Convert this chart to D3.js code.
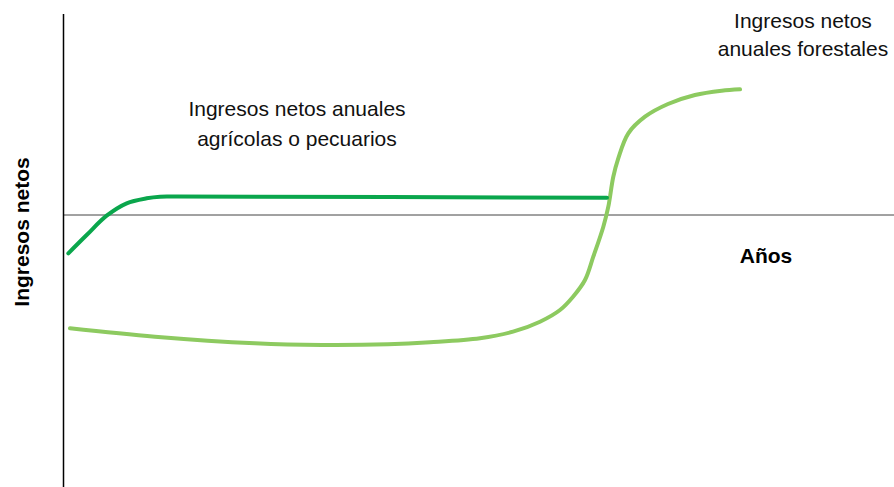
<!DOCTYPE html>
<html><head><meta charset="utf-8">
<script src="https://cdn.jsdelivr.net/npm/d3@7"></script>
<style>html,body{margin:0;padding:0;background:#fff}svg{display:block}</style>
</head><body>
<svg id="c" width="894" height="487"></svg>
<script>
// Years (abstract units 0..100) and net income (abstract units, 0 = break-even)
const agriYears  = [0.52, 2.73, 5.14, 7.55, 9.96, 11.57, 13.73, 65.42];
const agriIncome = [-19.15, -10, -0.35, 5.85, 8.35, 9.15, 9.2, 8.65];

const forestYears  = [0.72, 10.96, 23.01, 31.05, 39.04, 44.1, 50.12, 54.1, 57.35, 59.76, 61.33, 62.77, 63.77, 64.98, 65.58, 66.18, 66.78, 67.99, 70, 72.77, 76.02, 79.24, 81.45];
const forestIncome = [-56.65, -60.85, -64.15, -65, -64.65, -63.65, -61.65, -58.35, -53.35, -47.5, -40.85, -32.5, -20.85, -5.85, 4.15, 19.15, 28.35, 40.85, 49.15, 55.5, 60, 62.15, 62.85];

const labels = {
  agri: ["Ingresos netos anuales", "agrícolas o pecuarios"],
  forest: ["Ingresos netos", "anuales forestales"],
  xAxis: "Años",
  yAxis: "Ingresos netos"
};

const svg = d3.select("#c");
const x = d3.scaleLinear().domain([0, 100]).range([64, 894]);
const y = d3.scaleLinear().domain([-100, 100]).range([415, 15]);

// axes
svg.append("line").attr("x1", x(0)).attr("x2", x(100)).attr("y1", y(0)).attr("y2", y(0))
  .attr("stroke", "#444").attr("stroke-width", 1);
svg.append("line").attr("x1", x(0) - 0.5).attr("x2", x(0) - 0.5).attr("y1", 14).attr("y2", 487)
  .attr("stroke", "#000").attr("stroke-width", 1.5);

const line = d3.line().x(d => x(d[0])).y(d => y(d[1])).curve(d3.curveCatmullRom.alpha(0.5));

svg.append("path").datum(d3.zip(forestYears, forestIncome)).attr("d", line)
  .attr("fill", "none").attr("stroke", "#8dca60").attr("stroke-width", 4).attr("stroke-linecap", "round");
svg.append("path").datum(d3.zip(agriYears, agriIncome)).attr("d", line)
  .attr("fill", "none").attr("stroke", "#0aa64c").attr("stroke-width", 4).attr("stroke-linecap", "round");

const font = "Liberation Sans, Arial, sans-serif";
function multi(lines, cx, y0, dy) {
  const t = svg.append("text").attr("text-anchor", "middle").attr("font-family", font)
    .attr("font-size", 21).attr("fill", "#111");
  lines.forEach((s, i) => t.append("tspan").attr("x", cx).attr("y", y0 + i * dy).text(s));
}
multi(labels.agri, 297, 116, 30);
multi(labels.forest, 803, 28, 28);

svg.append("text").attr("x", 766).attr("y", 263).attr("text-anchor", "middle")
  .attr("font-family", font).attr("font-size", 21).attr("font-weight", "bold").text(labels.xAxis);
svg.append("text").attr("transform", "translate(29,232) rotate(-90)").attr("text-anchor", "middle")
  .attr("font-family", font).attr("font-size", 21).attr("font-weight", "bold").text(labels.yAxis);
</script>
</body></html>
